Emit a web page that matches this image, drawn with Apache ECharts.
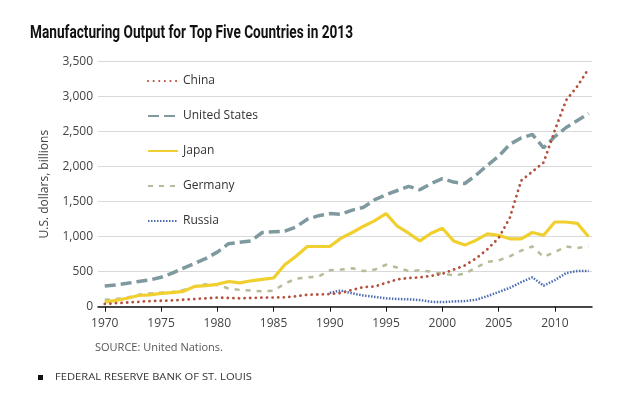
<!DOCTYPE html>
<html>
<head>
<meta charset="utf-8">
<script src="https://cdn.jsdelivr.net/npm/echarts@6/dist/echarts.min.js"></script>
<style>
html,body{margin:0;padding:0;background:#fff;}
#c{width:640px;height:401px;}
</style>
</head>
<body>
<div id="c"></div>
<script>
var years = [1970,1971,1972,1973,1974,1975,1976,1977,1978,1979,1980,1981,1982,1983,1984,1985,1986,1987,1988,1989,1990,1991,1992,1993,1994,1995,1996,1997,1998,1999,2000,2001,2002,2003,2004,2005,2006,2007,2008,2009,2010,2011,2012,2013];
var china = [40,50,60,70,80,85,90,100,110,120,130,125,120,125,130,130,135,150,170,175,180,195,240,280,290,340,390,410,420,440,470,530,590,690,820,980,1270,1800,1930,2060,2520,2950,3150,3400];
var unitedStates = [296,310,334,360,381,420,480,550,620,690,780,900,920,940,1060,1070,1080,1140,1250,1300,1330,1320,1380,1420,1530,1600,1660,1720,1670,1760,1830,1780,1760,1880,2020,2150,2320,2410,2460,2270,2430,2560,2660,2760];
var japan = [70,90,120,160,170,190,200,220,290,300,320,360,340,370,390,410,600,720,860,860,860,980,1060,1150,1230,1330,1150,1050,940,1050,1120,940,880,950,1040,1020,970,970,1060,1020,1210,1210,1190,1000];
var germany = [100,110,130,170,190,200,210,240,290,320,310,260,240,230,220,230,330,400,420,430,520,530,550,510,530,600,560,510,520,500,470,450,470,560,640,660,720,800,860,710,780,860,840,860];
var russiaYears = [1990,1991,1992,1993,1994,1995,1996,1997,1998,1999,2000,2001,2002,2003,2004,2005,2006,2007,2008,2009,2010,2011,2012,2013];
var russia = [200,230,190,160,140,120,110,105,95,70,65,75,80,100,150,210,270,350,420,300,380,480,510,510];
var xTickYears = [1970,1975,1980,1985,1990,1995,2000,2005,2010];
var seriesNames = ['China','United States','Japan','Germany','Russia'];
var titleText = 'Manufacturing Output for Top Five Countries in 2013';
var sourceText = 'SOURCE: United Nations.';
var footerText = 'FEDERAL RESERVE BANK OF ST. LOUIS';

function pairs(xs, vs){ return xs.map(function(x,i){ return [x, vs[i]]; }); }

var font = '"Open Sans", "Noto Sans", sans-serif';
var titleFont = 'Roboto, "Noto Sans", sans-serif';
var mctx = document.createElement('canvas').getContext('2d');
function textWidth(str, css){ mctx.font = css; return mctx.measureText(str).width; }
var titleSize = 17.5;
var titleScale = 323 / textWidth(titleText, 'bold ' + titleSize + 'px ' + titleFont);
var footerSize = 8.5;
var footerScale = 197 / textWidth(footerText, footerSize + 'px ' + font);

var chart = echarts.init(document.getElementById('c'), null, {renderer:'canvas'});
chart.setOption({
  animation:false,
  backgroundColor:'#fff',
  legend:{
    orient:'vertical', left:142, top:70,
    itemWidth:30, itemHeight:14, itemGap:23,
    data:seriesNames,
    itemStyle:{opacity:0},
    textStyle:{fontFamily:font, fontSize:12, color:'#333'}
  },
  grid:{left:98, right:48, top:61.7, bottom:94.3, containLabel:false},
  xAxis:{
    type:'value', min:1969.4, max:2013.3,
    axisLine:{show:true, onZero:false, lineStyle:{color:'#111', width:1.5}},
    axisTick:{show:true, customValues:xTickYears, length:5, lineStyle:{color:'#111', width:1}},
    axisLabel:{customValues:xTickYears, margin:11, color:'#444', fontFamily:font, fontSize:12, formatter:function(v){return String(v);}},
    splitLine:{show:false}
  },
  yAxis:{
    type:'value', min:0, max:3500, interval:500,
    name:'U.S. dollars, billions', nameLocation:'middle', nameGap:47,
    nameTextStyle:{fontFamily:font, fontSize:12, color:'#444'},
    axisLine:{show:false}, axisTick:{show:false},
    axisLabel:{margin:5, color:'#444', fontFamily:font, fontSize:12, formatter:function(v){return v.toLocaleString('en-US');}},
    splitLine:{lineStyle:{color:'#d9d9d9', width:1}}
  },
  series:[
    {name:'Germany', type:'line', symbol:'none', data:pairs(years, germany), z:2,
     lineStyle:{color:'#b3bd98', width:2.5, type:[5,6]}, itemStyle:{color:'#b3bd98'}},
    {name:'Russia', type:'line', symbol:'none', data:pairs(russiaYears, russia), z:3,
     lineStyle:{color:'#4d6db3', width:2.5, type:[1.5,1.5]}, itemStyle:{color:'#4d6db3'}},
    {name:'Japan', type:'line', symbol:'none', data:pairs(years, japan), z:4,
     lineStyle:{color:'#f0cf2e', width:3.2}, itemStyle:{color:'#f0cf2e'}},
    {name:'United States', type:'line', symbol:'none', data:pairs(years, unitedStates), z:5,
     lineStyle:{color:'#7f9a9e', width:3.5, type:[11,5]}, itemStyle:{color:'#7f9a9e'}},
    {name:'China', type:'line', symbol:'none', data:pairs(years, china), z:6,
     lineStyle:{color:'#b4513d', width:2.8, type:[0.1,5.5], cap:'round'}, itemStyle:{color:'#b4513d'}}
  ],
  graphic:[
    {type:'text', x:30, y:25, scaleX:titleScale, style:{text:titleText, fontFamily:titleFont, fontWeight:'bold', fontSize:titleSize, fill:'#111'}},
    {type:'text', left:95, top:342, style:{text:sourceText, fontFamily:font, fontSize:11, fill:'#555'}},
    {type:'rect', left:38, top:375, shape:{width:5, height:5}, style:{fill:'#111'}},
    {type:'text', x:55, y:373, scaleX:footerScale, style:{text:footerText, fontFamily:font, fontSize:footerSize, fill:'#333'}}
  ]
});
</script>
</body>
</html>
